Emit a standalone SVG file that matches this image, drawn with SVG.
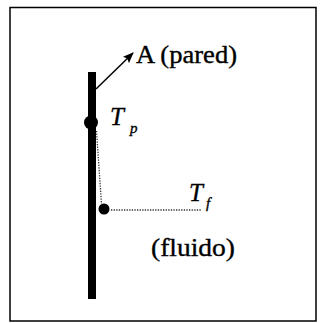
<svg xmlns="http://www.w3.org/2000/svg" width="320" height="323" viewBox="0 0 320 323">
<defs>
<style>
.t{font-family:"Liberation Serif","Times New Roman",serif;fill:#000;stroke:#000;stroke-width:0.35}
.dot{fill:none;stroke:#333;stroke-width:1.3;stroke-dasharray:1.3 1.3}
</style>
<marker id="ah" markerWidth="11" markerHeight="9" refX="10" refY="4.5" orient="auto" markerUnits="userSpaceOnUse">
<path d="M0,0 L11,4.5 L0,9 L2,4.5 Z" fill="#000"/>
</marker>
</defs>
<rect x="10" y="7.5" width="306" height="313.5" fill="#fff" stroke="#000" stroke-width="1.5"/>
<g id="wall">
<rect x="88" y="72" width="8" height="227" fill="#000"/>
</g>
<g id="connectors">
<line x1="96" y1="89" x2="133" y2="53" stroke="#000" stroke-width="1.5" marker-end="url(#ah)"/>
<polyline class="dot" points="96.5,131 101.5,204"/>
<line class="dot" x1="111" y1="210" x2="202" y2="210"/>
</g>
<g id="Tp">
<circle cx="91" cy="122.5" r="7" fill="#000"/>
<text class="t" x="110" y="125" font-size="25" font-style="italic">T</text>
<text class="t" x="130" y="133" font-size="15" font-style="italic">p</text>
</g>
<g id="Tf">
<circle cx="104" cy="209" r="5.5" fill="#000"/>
<text class="t" x="189" y="201" font-size="25" font-style="italic">T</text>
<text class="t" x="206" y="208" font-size="15" font-style="italic">f</text>
</g>
<g id="A">
<text class="t" x="136" y="63" font-size="25" textLength="101" lengthAdjust="spacingAndGlyphs">A (pared)</text>
</g>
<g id="fluido">
<text class="t" x="151" y="256" font-size="26" textLength="84" lengthAdjust="spacingAndGlyphs">(fluido)</text>
</g>
</svg>
